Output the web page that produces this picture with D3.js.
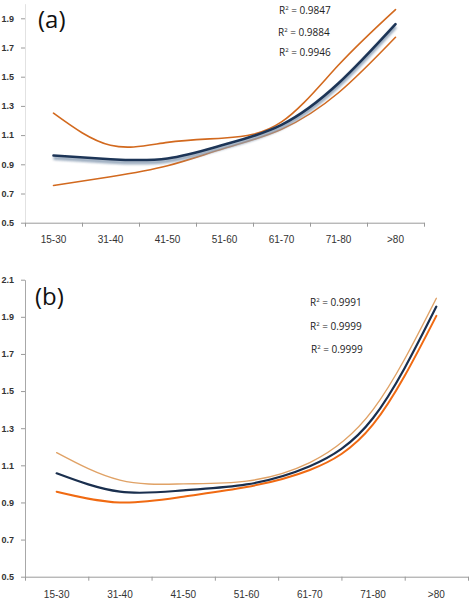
<!DOCTYPE html>
<html><head><meta charset="utf-8">
<script src="https://cdn.jsdelivr.net/npm/d3@7"></script>
<style>
body{margin:0;background:#fff;}
svg{display:block;font-family:"Open Sans",sans-serif;}
</style></head>
<body>
<svg id="c" width="472" height="600"></svg>
<script>
const categories = ["15-30","31-40","41-50","51-60","61-70","71-80",">80"];
// Panel (a)
const aUpper = [1.25, 1.03, 1.05, 1.08, 1.19, 1.58, 1.96];
const aMid   = [0.96, 0.935, 0.94, 1.035, 1.17, 1.455, 1.86];
const aLower = [0.755, 0.815, 0.89, 1.01, 1.14, 1.39, 1.77];
const aR2 = ["0.9847","0.9884","0.9946"];
const aTicks = [0.5,0.7,0.9,1.1,1.3,1.5,1.7,1.9];
// Panel (b)
const bUpper = [1.168, 1.02, 1.0, 1.015, 1.115, 1.40, 2.0];
const bMid   = [1.057, 0.958, 0.965, 0.997, 1.095, 1.355, 1.955];
const bLower = [0.958, 0.90, 0.931, 0.983, 1.075, 1.32, 1.905];
const bR2 = ["0.9991","0.9999","0.9999"];
const bTicks = [0.5,0.7,0.9,1.1,1.3,1.5,1.7,1.9,2.1];

const svg = d3.select("#c");
const defs = svg.append("defs");
defs.append("filter").attr("id","blur").attr("x","-10%").attr("y","-50%").attr("width","120%").attr("height","200%")
  .append("feGaussianBlur").attr("stdDeviation",1.2);

function panel(cfg){
  const g = svg.append("g");
  const x = d3.scaleBand().domain(categories).range([cfg.x0,cfg.x1]);
  const xi = d3.scaleLinear().domain([0,categories.length]).range([cfg.x0,cfg.x1]);
  const y = d3.scaleLinear().domain([0.5,cfg.ymax]).range([cfg.y0,cfg.y1]);
  // y axis
  const ya = g.append("g").attr("transform",`translate(${cfg.x0},0)`)
    .call(d3.axisLeft(y).tickValues(cfg.ticks).tickFormat(d3.format(".1f")).tickSize(4).tickPadding(7).tickSizeOuter(0));
  ya.select(".domain").attr("stroke",cfg.yAxisColor);
  ya.selectAll(".tick line").attr("stroke","#9a9a9a");
  ya.selectAll("text").attr("font-size",9).attr("fill","#333").attr("font-weight",600);
  // x axis line + ticks at band edges
  const xa = g.append("g").attr("transform",`translate(0,${cfg.y0})`)
    .call(d3.axisBottom(xi).tickValues(d3.range(categories.length+1)).tickFormat("").tickSize(4).tickSizeOuter(0));
  xa.select(".domain").attr("stroke","#9a9a9a");
  xa.selectAll(".tick line").attr("stroke","#9a9a9a");
  // x labels
  const xl = g.append("g").attr("transform",`translate(0,${cfg.y0})`)
    .call(d3.axisBottom(x).tickSize(0).tickPadding(cfg.labPad));
  xl.select(".domain").remove();
  xl.selectAll("text").attr("font-size",10).attr("fill","#333");

  const line = d3.line().x((d,i)=>x(categories[i])+x.bandwidth()/2).y(d=>y(d)).curve(d3.curveNatural);
  cfg.series.forEach(s=>{
    if(s.shadow){
      g.append("path").attr("d",line(s.values)).attr("fill","none")
        .attr("stroke",s.shadow).attr("stroke-width",4).attr("transform","translate(0,2.5)")
        .attr("filter","url(#blur)").attr("opacity",0.85);
    }
    g.append("path").attr("d",line(s.values)).attr("fill","none")
      .attr("stroke",s.color).attr("stroke-width",s.width).attr("stroke-linecap","round");
  });
  // panel letter
  g.append("text").attr("x",cfg.lx).attr("y",cfg.ly).attr("font-size",24).attr("fill","#111").text(cfg.letter);
  // R2 labels
  cfg.r2.forEach((v,i)=>{
    const t = g.append("text").attr("x",cfg.rx[i]).attr("y",cfg.ry[i]).attr("font-size",10).attr("fill","#222");
    t.append("tspan").text("R");
    t.append("tspan").attr("font-size",6).attr("dy",-4).text("2");
    t.append("tspan").attr("dy",4).text(" = "+v);
  });
}

panel({x0:25,x1:424,y0:222.7,y1:3.7,ymax:2.0,ticks:aTicks,yAxisColor:"#e2e2e2",labPad:13,
  series:[
    {values:aUpper,color:"#d2691e",width:1.6},
    {values:aLower,color:"#d2691e",width:1.6},
    {values:aMid,color:"#1d3557",width:2.6,shadow:"#8da0b6"}
  ],
  letter:"(a)",lx:38,ly:28,r2:aR2,rx:[279,278,279],ry:[14,36,56]});

panel({x0:25,x1:468,y0:576.7,y1:279.7,ymax:2.1,ticks:bTicks,yAxisColor:"#a8a8a8",labPad:14,
  series:[
    {values:bUpper,color:"#e0a266",width:1.4},
    {values:bLower,color:"#f06a12",width:2},
    {values:bMid,color:"#1a2f4e",width:2.2}
  ],
  letter:"(b)",lx:35,ly:305,r2:bR2,rx:[310,310,311],ry:[306,330,353]});
</script>
</body></html>
